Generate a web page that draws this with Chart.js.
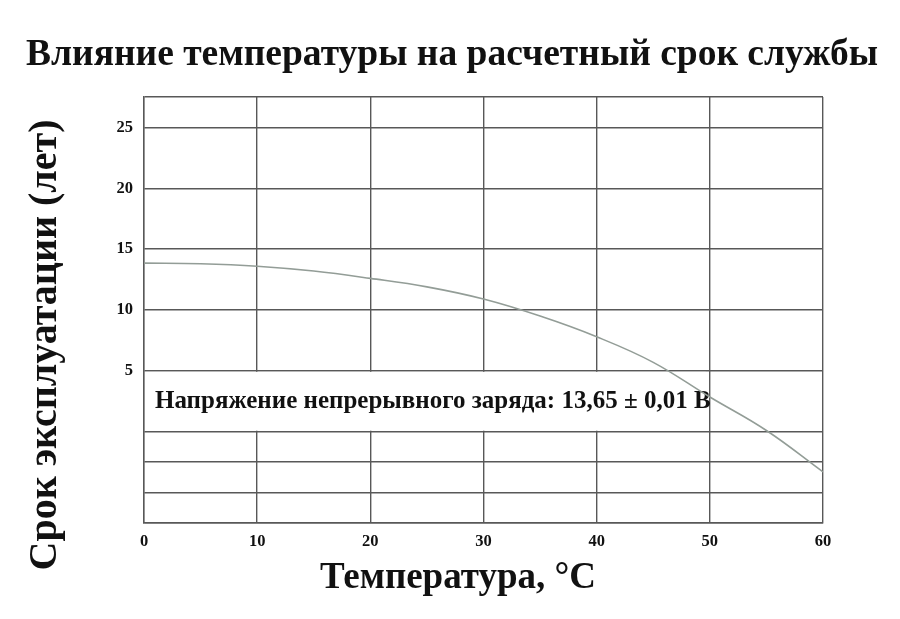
<!DOCTYPE html>
<html><head><meta charset="utf-8">
<script src="https://cdn.jsdelivr.net/npm/chart.js@4.4.1/dist/chart.umd.min.js"></script>
<style>html,body{margin:0;padding:0;background:#fff}#wrap{width:900px;height:619px;position:relative}</style>
</head><body><div id="wrap"><canvas id="c"></canvas></div>
<script>
const temperatures = [0, 5, 10, 15, 20, 25, 30, 35, 40, 45, 50, 55, 60];
const serviceLifeYears = [13.85, 13.8, 13.6, 13.2, 12.6, 11.9, 10.9, 9.5, 7.8, 5.7, 2.85, 0.1, -3.3];
const yLabelValues = [5, 10, 15, 20, 25];
const yGridValues = [27.5, 25, 20, 15, 10, 5, 0, -2.5, -5, -7.5];
const titleText = 'Влияние температуры на расчетный срок службы';
const yTitleText = 'Срок эксплуатации (лет)';
const xTitleText = 'Температура, °C';
const noteText = 'Напряжение непрерывного заряда: 13,65 ± 0,01 В';

const SERIF = '"Liberation Serif", "Times New Roman", serif';
const GRID = '#585858';

const notePlugin = {
  id: 'note',
  beforeDatasetsDraw(chart) {
    const {ctx, chartArea, scales} = chart;
    const y5 = scales.y.getPixelForValue(5);
    const y0 = scales.y.getPixelForValue(0);
    const xr = scales.x.getPixelForValue(50) - 4;
    ctx.save();
    ctx.fillStyle = '#ffffff';
    ctx.fillRect(chartArea.left + 1, y5 + 1, xr - chartArea.left - 1, y0 - y5 - 2);
    ctx.fillStyle = '#111';
    ctx.font = 'bold 25px ' + SERIF;
    ctx.textBaseline = 'middle';
    ctx.textAlign = 'left';
    ctx.fillText(noteText, chartArea.left + 11, (y5 + y0) / 2);
    ctx.restore();
  }
};

const textPlugin = {
  id: 'texts',
  afterDraw(chart) {
    const {ctx} = chart;
    ctx.save();
    ctx.fillStyle = '#111';
    ctx.textAlign = 'center';
    ctx.textBaseline = 'middle';
    ctx.font = 'bold 37.5px ' + SERIF;
    ctx.fillText(titleText, 452, 55);
    ctx.font = 'bold 37px ' + SERIF;
    ctx.fillText(xTitleText, 458, 578);
    ctx.translate(46, 345);
    ctx.rotate(-Math.PI / 2);
    ctx.font = 'bold 40px ' + SERIF;
    ctx.fillText(yTitleText, 0, 0);
    ctx.restore();
  }
};

new Chart(document.getElementById('c'), {
  type: 'line',
  data: {
    datasets: [{
      data: temperatures.map((t, i) => ({x: t, y: serviceLifeYears[i]})),
      borderColor: '#939d97',
      borderWidth: 1.6,
      pointRadius: 0,
      fill: false,
      tension: 0.4
    }]
  },
  options: {
    responsive: true,
    maintainAspectRatio: false,
    animation: false,
    layout: {padding: {left: 0, right: 77, top: 97, bottom: 0}},
    plugins: {
      legend: {display: false},
      tooltip: {enabled: false},
      title: {display: false}
    },
    scales: {
      x: {
        type: 'linear',
        min: 0, max: 60,
        afterFit(s) { s.height = 96; },
        ticks: {stepSize: 10, color: '#111', padding: 9, font: {family: SERIF, size: 16.5, weight: 'bold'}},
        grid: {color: GRID, lineWidth: 1.4, drawTicks: false},
        border: {color: GRID, width: 1.4}
      },
      y: {
        type: 'linear',
        min: -7.5, max: 27.5,
        afterFit(s) { s.width = 144; },
        ticks: {
          stepSize: 2.5, color: '#111', padding: 11,
          font: {family: SERIF, size: 16.5, weight: 'bold'},
          callback: v => (yLabelValues.includes(v) ? String(v) : '')
        },
        grid: {
          lineWidth: 1.4, drawTicks: false,
          color: c => (yGridValues.includes(c.tick.value) ? GRID : 'rgba(0,0,0,0)')
        },
        border: {color: GRID, width: 1.4}
      }
    }
  },
  plugins: [notePlugin, textPlugin]
});
</script></body></html>
